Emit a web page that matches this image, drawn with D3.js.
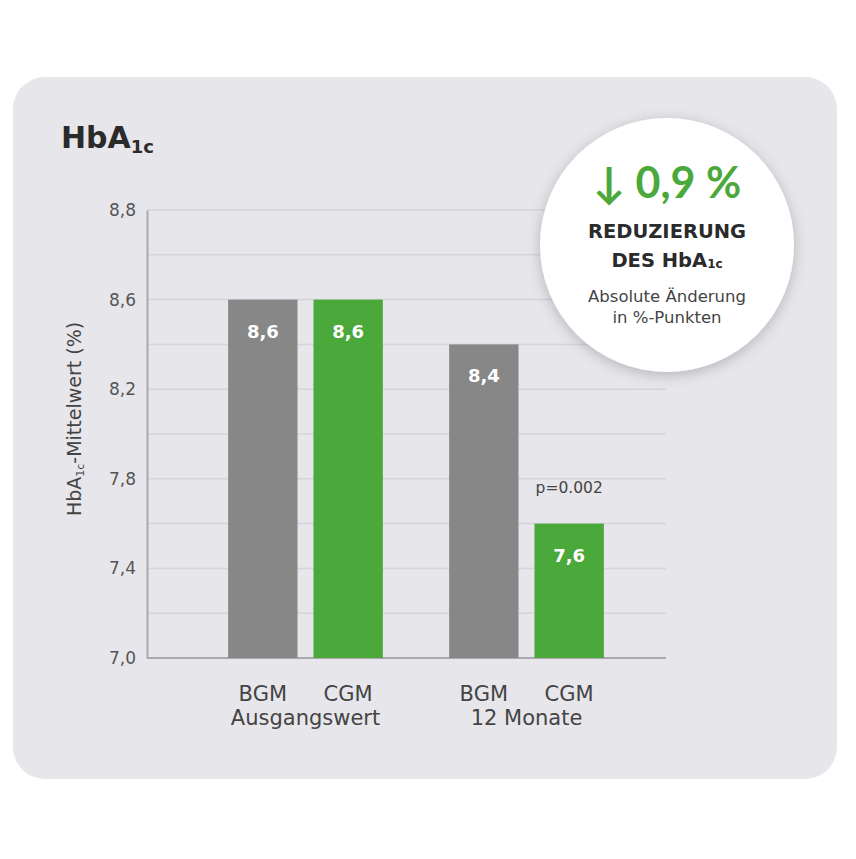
<!DOCTYPE html>
<html>
<head>
<meta charset="utf-8">
<script src="https://cdn.jsdelivr.net/npm/d3@7"></script>
<style>
  body { margin: 0; background: #fff; }
  svg text { font-family: "DejaVu Sans", "Noto Sans", sans-serif; }
</style>
</head>
<body>
<div id="chart"></div>
<script>
// data
var groups = ["Ausgangswert", "12 Monate"];
var devices = ["BGM", "CGM"];
var bgmValues = [8.6, 8.4];
var cgmValues = [8.6, 7.6];
var yTickValues = [7.0, 7.4, 7.8, 8.2, 8.6, 9.0];
var yTickLabels = ["7,0", "7,4", "7,8", "8,2", "8,6", "8,8"];
var gridValues = [7.0, 7.2, 7.4, 7.6, 7.8, 8.0, 8.2, 8.4, 8.6, 8.8, 9.0];
var pValueText = "p=0.002";

var cfg = {
  width: 856,
  height: 859,
  grey: "#878787",
  green: "#4ba83a",
  panel: "#e7e6eb",
  grid: "#d5d4da",
  text: "#444"
};

var svg = d3.select("#chart").append("svg")
  .attr("width", cfg.width)
  .attr("height", cfg.height);

var defs = svg.append("defs");
var shadow = defs.append("filter").attr("id", "shadow")
  .attr("x", "-30%").attr("y", "-30%").attr("width", "160%").attr("height", "160%");
shadow.append("feDropShadow")
  .attr("dx", 0).attr("dy", 3)
  .attr("stdDeviation", 7)
  .attr("flood-color", "#000")
  .attr("flood-opacity", 0.22);

// panel
svg.append("rect")
  .attr("x", 13).attr("y", 77)
  .attr("width", 824).attr("height", 702)
  .attr("rx", 32)
  .attr("fill", cfg.panel);

// title
var title = svg.append("text")
  .attr("x", 61).attr("y", 148)
  .attr("font-size", 30).attr("font-weight", 700)
  .attr("fill", "#2b2b2b");
title.append("tspan").text("HbA");
title.append("tspan").attr("font-size", 18).attr("dy", 5).text("1c");

// scales
var x0 = d3.scaleBand()
  .domain(groups)
  .range([195, 637])
  .paddingInner(0.3)
  .paddingOuter(0.15);

var x1 = d3.scaleBand()
  .domain(devices)
  .range([0, x0.bandwidth()])
  .paddingInner(0.187);

var y = d3.scaleLinear()
  .domain([7.0, 9.0])
  .range([658, 210]);

// grid
svg.append("g").selectAll("line")
  .data(gridValues)
  .enter().append("line")
  .attr("x1", 147).attr("x2", 666)
  .attr("y1", function(d) { return y(d); })
  .attr("y2", function(d) { return y(d); })
  .attr("stroke", cfg.grid)
  .attr("stroke-width", 1.5);

// y axis
var yAxis = d3.axisLeft(y)
  .tickValues(yTickValues)
  .tickSize(0)
  .tickPadding(11)
  .tickFormat(function(d, i) { return yTickLabels[i]; });

var yG = svg.append("g")
  .attr("transform", "translate(147,0)")
  .call(yAxis);
yG.select(".domain").attr("stroke", "#a9a8ad").attr("stroke-width", 2);
yG.selectAll("text")
  .attr("font-size", 17)
  .attr("fill", "#555")
  .style("font-family", "'DejaVu Sans', 'Noto Sans', sans-serif");

// x axis baseline
svg.append("line")
  .attr("x1", 147).attr("x2", 666)
  .attr("y1", y(7.0)).attr("y2", y(7.0))
  .attr("stroke", "#a9a8ad").attr("stroke-width", 2);

// y axis title
var yTitle = svg.append("text")
  .attr("transform", "translate(81,419) rotate(-90)")
  .attr("text-anchor", "middle")
  .attr("font-size", 19)
  .attr("fill", cfg.text);
yTitle.append("tspan").text("HbA");
yTitle.append("tspan").attr("font-size", 11).attr("dy", 3).text("1c");
yTitle.append("tspan").attr("dy", -3).text("-Mittelwert (%)");

// bars
var barData = [];
groups.forEach(function(g, i) {
  barData.push({ group: g, device: "BGM", value: bgmValues[i], color: cfg.grey });
  barData.push({ group: g, device: "CGM", value: cgmValues[i], color: cfg.green });
});

var bars = svg.append("g").selectAll("g")
  .data(barData)
  .enter().append("g")
  .attr("transform", function(d) { return "translate(" + (x0(d.group) + x1(d.device)) + ",0)"; });

bars.append("rect")
  .attr("x", 0)
  .attr("y", function(d) { return y(d.value); })
  .attr("width", x1.bandwidth())
  .attr("height", function(d) { return y(7.0) - y(d.value); })
  .attr("fill", function(d) { return d.color; });

bars.append("text")
  .attr("x", x1.bandwidth() / 2)
  .attr("y", function(d) { return y(d.value) + 38; })
  .attr("text-anchor", "middle")
  .attr("font-size", 18)
  .attr("font-weight", 700)
  .attr("fill", "#fff")
  .text(function(d) { return d3.format(".1f")(d.value).replace(".", ","); });

// category labels
bars.append("text")
  .attr("x", x1.bandwidth() / 2)
  .attr("y", 701)
  .attr("text-anchor", "middle")
  .attr("font-size", 21)
  .attr("fill", cfg.text)
  .text(function(d) { return d.device; });

svg.append("g").selectAll("text")
  .data(groups)
  .enter().append("text")
  .attr("x", function(d) { return x0(d) + x0.bandwidth() / 2; })
  .attr("y", 725)
  .attr("text-anchor", "middle")
  .attr("font-size", 21)
  .attr("fill", cfg.text)
  .text(function(d) { return d; });

// p-value above the 12-month CGM bar
svg.append("text")
  .attr("x", x0(groups[1]) + x1("CGM") + x1.bandwidth() / 2)
  .attr("y", y(cgmValues[1]) - 31)
  .attr("text-anchor", "middle")
  .attr("font-size", 15.5)
  .attr("fill", cfg.text)
  .text(pValueText);

// callout circle
var badge = svg.append("g").attr("transform", "translate(667,245)");
badge.append("circle")
  .attr("r", 127)
  .attr("fill", "#fff")
  .attr("filter", "url(#shadow)");

badge.append("text")
  .attr("y", -47)
  .attr("text-anchor", "middle")
  .attr("font-size", 43)
  .attr("font-weight", 700)
  .attr("fill", cfg.green)
  .style("font-family", "Lato, 'DejaVu Sans', sans-serif")
  .text("\u2193 0,9 %");

badge.append("text")
  .attr("y", -7)
  .attr("text-anchor", "middle")
  .attr("font-size", 19.5)
  .attr("font-weight", 700)
  .attr("fill", "#2b2b2b")
  .text("REDUZIERUNG");

var des = badge.append("text")
  .attr("y", 22)
  .attr("text-anchor", "middle")
  .attr("font-size", 19.5)
  .attr("font-weight", 700)
  .attr("fill", "#2b2b2b");
des.append("tspan").text("DES HbA");
des.append("tspan").attr("font-size", 12).attr("dy", 1).text("1c");

badge.append("text")
  .attr("y", 57)
  .attr("text-anchor", "middle")
  .attr("font-size", 16.5)
  .attr("fill", cfg.text)
  .text("Absolute \u00c4nderung");

badge.append("text")
  .attr("y", 78)
  .attr("text-anchor", "middle")
  .attr("font-size", 16.5)
  .attr("fill", cfg.text)
  .text("in %-Punkten");
</script>
</body>
</html>
